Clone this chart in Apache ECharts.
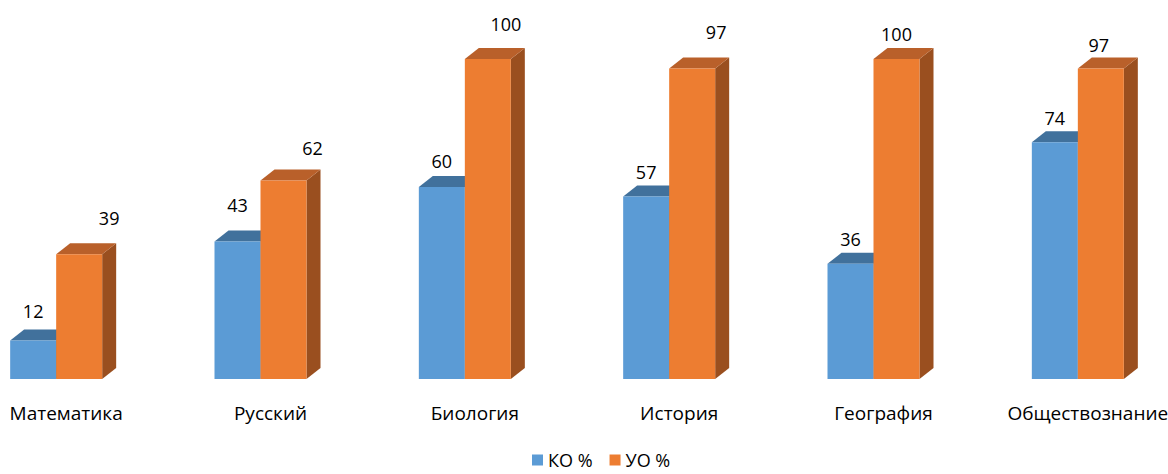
<!DOCTYPE html>
<html>
<head>
<meta charset="utf-8">
<script src="https://cdn.jsdelivr.net/npm/echarts@6/dist/echarts.min.js"></script>
<style>
html, body { margin: 0; background: #fff; overflow: hidden; }
/* the picture is cropped: first and last bands run past the edges */
#chart { width: 1226px; height: 474px; margin-left: -36px; }
</style>
</head>
<body>
<div id="chart"></div>
<script>
var categories = ['Математика', 'Русский', 'Биология', 'История', 'География', 'Обществознание'];
var koValues = [12, 43, 60, 57, 36, 74];
var uoValues = [39, 62, 100, 97, 100, 97];
// where each value label sits: [dx from bar centre, height above bar top]
var koLabelShift = [[0, 30], [0, 36], [0, 26], [0, 25], [0, 25], [0, 24]];
var uoLabelShift = [[30, 36], [29, 33], [18, 35], [24, 37], [0, 25], [-2, 24]];

var FONT = '"Open Sans", sans-serif';

var chart = echarts.init(document.getElementById('chart'), null, { renderer: 'svg' });

// fake 3d column: front, top and right side
function bar3d(front, topColor, sideColor, offset, shifts) {
  return function (params, api) {
    var i = api.value(0);
    var v = api.value(1);
    var top = api.coord([i, v]);
    var base = api.coord([i, 0]);
    var x1 = top[0] + offset, x2 = x1 + 46;
    var y1 = top[1], y2 = base[1];
    var dx = 14, dy = 11;
    var sh = shifts[i];
    return {
      type: 'group',
      children: [
        {
          type: 'polygon',
          shape: { points: [[x2, y1], [x2 + dx, y1 - dy], [x2 + dx, y2 - dy], [x2, y2]] },
          style: { fill: sideColor }
        },
        {
          type: 'polygon',
          shape: { points: [[x1, y1], [x1 + dx, y1 - dy], [x2 + dx, y1 - dy], [x2, y1]] },
          style: { fill: topColor }
        },
        {
          type: 'rect',
          shape: { x: x1, y: y1, width: x2 - x1, height: y2 - y1 },
          style: { fill: front }
        },
        {
          type: 'text',
          x: (x1 + x2) / 2 + sh[0],
          y: y1 - sh[1],
          style: {
            text: String(v),
            fill: '#000',
            fontSize: 18,
            fontFamily: FONT,
            align: 'center',
            verticalAlign: 'middle'
          }
        }
      ]
    };
  };
}

var option = {
  animation: false,
  grid: { left: 0, right: 0, top: 59, bottom: 95 },
  legend: {
    data: ['КО %', 'УО %'],
    bottom: 0,
    left: 563,
    icon: 'rect',
    itemWidth: 11,
    itemHeight: 11,
    itemGap: 17,
    textStyle: { fontSize: 18, fontFamily: FONT, color: '#000' }
  },
  xAxis: {
    type: 'category',
    data: categories,
    axisLine: { show: false },
    axisTick: { show: false },
    axisLabel: { margin: 24, fontSize: 19, fontFamily: FONT, color: '#000', interval: 0 }
  },
  yAxis: { type: 'value', min: 0, max: 100, show: false },
  series: [
    {
      name: 'КО %',
      type: 'custom',
      itemStyle: { color: '#5B9BD5' },
      renderItem: bar3d('#5B9BD5', '#41719C', '#3A6690', -56, koLabelShift),
      encode: { x: 0, y: 1 },
      data: koValues.map(function (v, i) { return [i, v]; })
    },
    {
      name: 'УО %',
      type: 'custom',
      itemStyle: { color: '#ED7D31' },
      renderItem: bar3d('#ED7D31', '#B9602A', '#9A4F1F', -10, uoLabelShift),
      encode: { x: 0, y: 1 },
      data: uoValues.map(function (v, i) { return [i, v]; })
    }
  ]
};

chart.setOption(option);
</script>
</body>
</html>
